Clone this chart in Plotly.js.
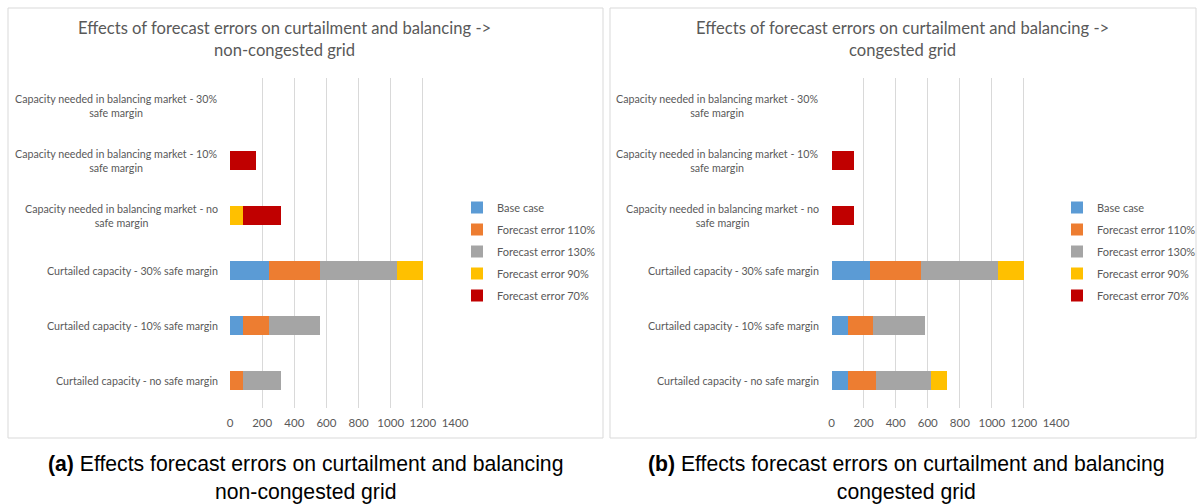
<!DOCTYPE html>
<html>
<head>
<meta charset="utf-8">
<script src="https://cdn.plot.ly/plotly-3.0.1.min.js"></script>
<style>html,body{margin:0;padding:0;background:#fff;}#chart{width:1200px;height:504px;}</style>
</head>
<body>
<div id="chart"></div>
<script>
// Categories, top to bottom
const categories = [
  "Capacity needed in balancing market - 30%<br>safe margin",
  "Capacity needed in balancing market - 10%<br>safe margin",
  "Capacity needed in balancing market - no<br>safe margin",
  "Curtailed capacity - 30% safe margin",
  "Curtailed capacity - 10% safe margin",
  "Curtailed capacity - no safe margin"
];
const seriesNames = ["Base case", "Forecast error 110%", "Forecast error 130%", "Forecast error 90%", "Forecast error 70%"];
const seriesColors = ["#5B9BD5", "#ED7D31", "#A5A5A5", "#FFC000", "#C00000"];

// (a) non-congested grid
const ncBase = [0, 0, 0, 240, 80, 0];
const nc110  = [0, 0, 0, 320, 160, 80];
const nc130  = [0, 0, 0, 480, 320, 240];
const nc90   = [0, 0, 80, 160, 0, 0];
const nc70   = [0, 160, 240, 0, 0, 0];

// (b) congested grid
const cBase = [0, 0, 0, 240, 100, 100];
const c110  = [0, 0, 0, 320, 160, 180];
const c130  = [0, 0, 0, 480, 320, 340];
const c90   = [0, 0, 0, 160, 0, 100];
const c70   = [0, 140, 140, 0, 0, 0];

const xTicks = [0, 200, 400, 600, 800, 1000, 1200, 1400];

const titleA = "Effects of forecast errors on curtailment and balancing -><br>non-congested grid";
const titleB = "Effects of forecast errors on curtailment and balancing -><br>congested grid";
const captionA = "<b>(a)</b> Effects forecast errors on curtailment and balancing<br>non-congested grid";
const captionB = "<b>(b)</b> Effects forecast errors on curtailment and balancing<br>congested grid";

const textGray = "#595959";
const gridGray = "#D9D9D9";
const font = "Lato, 'Open Sans', sans-serif";

const dataA = [ncBase, nc110, nc130, nc90, nc70];
const dataB = [cBase, c110, c130, c90, c70];
const traces = [];
dataA.forEach((vals, i) => {
  traces.push({type: "bar", orientation: "h", x: vals, y: categories, name: seriesNames[i],
    marker: {color: seriesColors[i], line: {width: 0}}, xaxis: "x", yaxis: "y",
    legend: "legend", legendgroup: "a" + i, hoverinfo: "x+name"});
});
dataB.forEach((vals, i) => {
  traces.push({type: "bar", orientation: "h", x: vals, y: categories, name: seriesNames[i],
    marker: {color: seriesColors[i], line: {width: 0}}, xaxis: "x2", yaxis: "y2",
    legend: "legend2", legendgroup: "b" + i, hoverinfo: "x+name"});
});

const yDom = [1 - 408/504, 1 - 78/504];
const xAxisBase = {range: [0, 1400], tickvals: xTicks, showgrid: true, gridcolor: gridGray, gridwidth: 1,
  zeroline: false, showline: false, ticks: "outside", ticklen: 4, tickcolor: "rgba(0,0,0,0)",
  tickfont: {family: font, size: 11.5, color: textGray}, fixedrange: true, automargin: false};
const yAxisBase = {type: "category", autorange: "reversed", showticklabels: false, showgrid: false,
  zeroline: false, showline: false, ticks: "", domain: yDom, fixedrange: true, automargin: false};

const legendBase = {font: {family: font, size: 11, color: textGray}, traceorder: "grouped", tracegroupgap: 3,
  bgcolor: "rgba(0,0,0,0)", xanchor: "left", yanchor: "top", itemclick: false, itemdoubleclick: false};

const annotations = [];
categories.forEach(c => {
  annotations.push({text: c, xref: "paper", yref: "y", x: 220/1200, y: c, xanchor: "right", yanchor: "middle",
    align: "center", showarrow: false, font: {family: font, size: 10.7, color: textGray}});
  annotations.push({text: c, xref: "paper", yref: "y2", x: 821/1200, y: c, xanchor: "right", yanchor: "middle",
    align: "center", showarrow: false, font: {family: font, size: 10.7, color: textGray}});
});
annotations.push({text: titleA, xref: "paper", yref: "paper", x: 284/1200, y: 1 - 39.5/504, xanchor: "center",
  yanchor: "middle", align: "center", showarrow: false, font: {family: font, size: 16.6, color: textGray}});
annotations.push({text: titleB, xref: "paper", yref: "paper", x: 903/1200, y: 1 - 39.5/504, xanchor: "center",
  yanchor: "middle", align: "center", showarrow: false, font: {family: font, size: 16.6, color: textGray}});
annotations.push({text: captionA, xref: "paper", yref: "paper", x: 305/1200, y: 1 - 478/504, xanchor: "center",
  yanchor: "middle", align: "center", showarrow: false, font: {family: "'Liberation Sans', Arial, sans-serif", size: 21.2, color: "#000"}});
annotations.push({text: captionB, xref: "paper", yref: "paper", x: 906/1200, y: 1 - 478/504, xanchor: "center",
  yanchor: "middle", align: "center", showarrow: false, font: {family: "'Liberation Sans', Arial, sans-serif", size: 21.2, color: "#000"}});

const layout = {
  width: 1200, height: 504, margin: {l: 0, r: 0, t: 0, b: 0, autoexpand: false},
  paper_bgcolor: "#fff", plot_bgcolor: "rgba(0,0,0,0)",
  barmode: "stack", bargap: 0.655, showlegend: true,
  xaxis: Object.assign({}, xAxisBase, {domain: [230/1200, 455/1200], anchor: "y"}),
  yaxis: Object.assign({}, yAxisBase, {anchor: "x"}),
  xaxis2: Object.assign({}, xAxisBase, {domain: [831.5/1200, 1056/1200], anchor: "y2"}),
  yaxis2: Object.assign({}, yAxisBase, {anchor: "x2"}),
  legend: Object.assign({}, legendBase, {x: 457/1200, y: 1 - 193/504}),
  legend2: Object.assign({}, legendBase, {x: 1057/1200, y: 1 - 193/504}),
  shapes: [
    {type: "rect", xref: "paper", yref: "paper", x0: 8/1200, x1: 603/1200, y0: 1 - 438/504, y1: 1 - 8/504,
      line: {color: gridGray, width: 1}, fillcolor: "rgba(0,0,0,0)", layer: "below"},
    {type: "rect", xref: "paper", yref: "paper", x0: 610/1200, x1: 1196/1200, y0: 1 - 438/504, y1: 1 - 8/504,
      line: {color: gridGray, width: 1}, fillcolor: "rgba(0,0,0,0)", layer: "below"}
  ],
  annotations: annotations
};

Plotly.newPlot("chart", traces, layout, {displayModeBar: false, staticPlot: false});
</script>
</body>
</html>
